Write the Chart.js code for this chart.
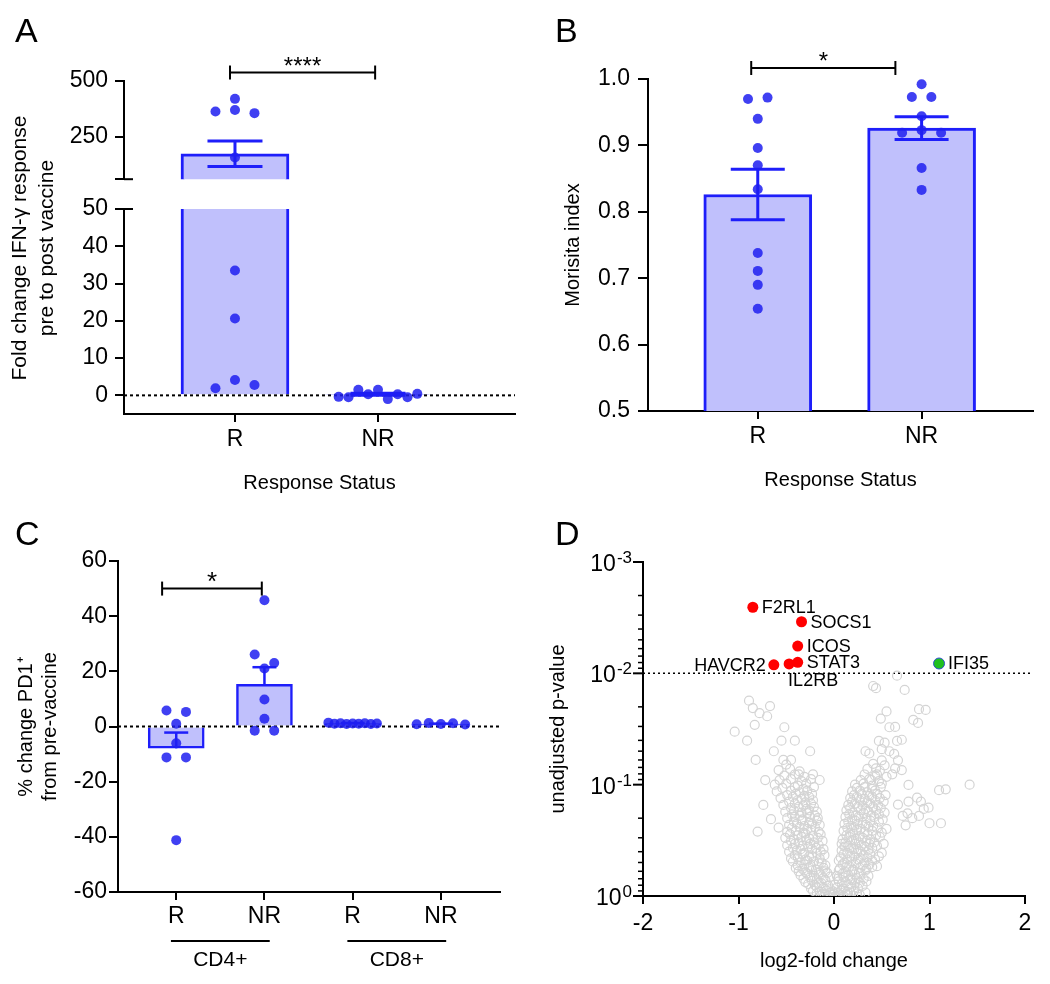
<!DOCTYPE html>
<html>
<head>
<meta charset="utf-8">
<title>Figure</title>
<script src="https://cdn.jsdelivr.net/npm/chart.js@4.4.1/dist/chart.umd.min.js"></script>
<style>
html, body { margin: 0; padding: 0; background: #fff; }
#fig { position: relative; width: 1050px; height: 984px; overflow: hidden; }
#fig canvas { position: absolute; }
</style>
</head>
<body>
<div id="fig">
	<canvas id="panel-a" width="530" height="500" style="left:0;top:0"></canvas>
	<canvas id="panel-a-top" width="530" height="200" style="left:0;top:0"></canvas>
	<canvas id="panel-b" width="520" height="500" style="left:530px;top:0"></canvas>
	<canvas id="panel-c" width="530" height="484" style="left:0;top:500px"></canvas>
	<canvas id="panel-d" width="520" height="484" style="left:530px;top:500px"></canvas>
</div>
<script>
( function () {
	'use strict';

	var FONT = '"Liberation Sans", Arial, Helvetica, sans-serif';
	var BLUE = 'rgb(30,30,250)';
	var FILL = 'rgb(192,192,252)';
	var DOT = 'rgba(30,30,240,0.85)';
	var GREY = 'rgb(212,212,212)';

	Chart.defaults.font.family = FONT;
	Chart.defaults.color = '#000';
	Chart.defaults.animation = false;
	Chart.defaults.events = [];
	Chart.defaults.plugins.legend.display = false;
	Chart.defaults.plugins.tooltip.enabled = false;

	// Panel A: fold change of the IFN-gamma response.
	var aCats = [ 'R', 'NR' ];
	var aMeans = [ 174, 0.3 ];
	var aSems = [ 57, 0.3 ];
	var aR = [ 420, 363, 370, 356, 157, 33.5, 20.6, 1.9, 4.1, 2.8 ];
	var aNR = [ -0.4, -0.5, 1.5, 0.3, 1.5, -1.0, 0.3, -0.5, 0.4 ];
	var aLowTicks = [ 0, 10, 20, 30, 40, 50 ];
	var aHighTicks = [ 60, 250, 500 ];

	// Panel B: Morisita index.
	var bCats = [ 'R', 'NR' ];
	var bMeans = [ 0.826, 0.926 ];
	var bSems = [ 0.038, 0.017 ];
	var bR = [ 0.970, 0.972, 0.940, 0.896, 0.870, 0.834, 0.738, 0.711, 0.690, 0.654 ];
	var bNR = [ 0.992, 0.973, 0.973, 0.944, 0.919, 0.923, 0.919, 0.866, 0.833 ];
	var bTicks = [ 0.5, 0.6, 0.7, 0.8, 0.9, 1.0 ];

	// Panel C: % change of PD1+ cells.
	var cCats = [ 'R', 'NR', 'R', 'NR' ];
	var cSubsets = [ 'CD4+', 'CD8+' ];
	var cMeans = [ -7.9, 15.3, 1.1, 0.9 ];
	var cSems = [ 5.7, 6.2, 0.15, 0.15 ];
	var cCd4R = [ 5.8, 5.3, 1.0, -6.1, -11.2, -11.2, -41.2 ];
	var cCd4NR = [ 45.8, 26.1, 23.0, 21.0, 9.8, 2.8, -1.5, -1.5 ];
	var cCd8R = [ 1.4, 1.0, 1.2, 0.9, 1.1, 1.0, 1.2, 0.9, 1.1 ];
	var cCd8NR = [ 0.8, 1.3, 0.9, 1.2, 0.7 ];
	var cTicks = [ -60, -40, -20, 0, 20, 40, 60 ];

	// Panel D: volcano plot.
	var dGenes = [ 'F2RL1', 'SOCS1', 'ICOS', 'STAT3', 'IL2RB', 'HAVCR2' ];
	var dGeneFC = [ -0.85, -0.34, -0.38, -0.38, -0.47, -0.63 ];
	var dGeneP = [ 0.00255, 0.00344, 0.00569, 0.00796, 0.00824, 0.00839 ];
	var dGreenGenes = [ 'IFI35' ];
	var dGreenFC = [ 1.10 ];
	var dGreenP = [ 0.00816 ];
	var dCutoff = 0.01;
	var dXTicks = [ -2, -1, 0, 1, 2 ];
	var dYTicks = [ 0.001, 0.01, 0.1, 1 ];
	var dYExp = [ '-3', '-2', '-1', '0' ];
	var dLabelSide = { F2RL1: 'right', SOCS1: 'right', ICOS: 'right', STAT3: 'right', IL2RB: 'below', HAVCR2: 'left', IFI35: 'right' };
	var dGrey = [
		[ -0.14, 0.99 ], [ -0.10, 0.97 ], [ -0.06, 1.0 ], [ -0.02, 0.98 ], [ 0.02, 0.99 ], [ 0.06, 0.965 ], [ 0.10, 1.0 ], [ 0.14, 0.98 ], [ 0.20, 0.99 ], [ 0.27, 0.975 ],
		[ -0.18, 0.94 ], [ -0.12, 0.96 ], [ -0.04, 0.93 ], [ 0.00, 0.955 ], [ 0.04, 0.94 ], [ 0.12, 0.96 ], [ 0.17, 0.935 ], [ 0.24, 0.95 ],
		[ -0.22, 0.90 ], [ -0.15, 0.92 ], [ -0.08, 0.89 ], [ -0.01, 0.91 ], [ 0.07, 0.895 ], [ 0.14, 0.92 ], [ 0.21, 0.90 ], [ 0.33, 0.93 ],
		[ -0.24, 0.86 ], [ -0.18, 0.83 ], [ -0.11, 0.85 ], [ -0.04, 0.87 ], [ 0.03, 0.84 ], [ 0.10, 0.86 ], [ 0.18, 0.83 ], [ 0.25, 0.85 ],
		[ -0.27, 0.78 ], [ -0.20, 0.80 ], [ -0.13, 0.77 ], [ -0.06, 0.81 ], [ 0.01, 0.79 ], [ 0.08, 0.78 ], [ 0.15, 0.80 ], [ 0.22, 0.77 ], [ 0.30, 0.81 ],
		[ -0.30, 0.75 ], [ -0.23, 0.73 ], [ -0.16, 0.76 ], [ -0.09, 0.72 ], [ 0.05, 0.74 ], [ 0.12, 0.75 ], [ 0.19, 0.72 ], [ 0.27, 0.76 ], [ 0.34, 0.74 ],
		[ -0.32, 0.70 ], [ -0.25, 0.68 ], [ -0.18, 0.71 ], [ -0.11, 0.69 ], [ -0.04, 0.67 ], [ 0.04, 0.70 ], [ 0.10, 0.68 ], [ 0.17, 0.71 ], [ 0.24, 0.69 ], [ 0.31, 0.70 ],
		[ -0.35, 0.65 ], [ -0.28, 0.63 ], [ -0.21, 0.66 ], [ -0.14, 0.64 ], [ -0.07, 0.62 ], [ 0.03, 0.66 ], [ 0.09, 0.63 ], [ 0.15, 0.65 ], [ 0.22, 0.64 ], [ 0.28, 0.62 ], [ 0.36, 0.66 ],
		[ -0.37, 0.60 ], [ -0.30, 0.61 ], [ -0.23, 0.59 ], [ -0.16, 0.62 ], [ -0.09, 0.60 ], [ 0.05, 0.59 ], [ 0.12, 0.61 ], [ 0.19, 0.60 ], [ 0.26, 0.62 ], [ 0.33, 0.59 ],
		[ -0.40, 0.56 ], [ -0.33, 0.57 ], [ -0.26, 0.55 ], [ -0.19, 0.58 ], [ -0.11, 0.56 ], [ 0.06, 0.57 ], [ 0.13, 0.55 ], [ 0.20, 0.58 ], [ 0.27, 0.56 ], [ 0.34, 0.57 ], [ 0.40, 0.55 ],
		[ -0.38, 0.53 ], [ -0.31, 0.52 ], [ -0.24, 0.54 ], [ -0.16, 0.51 ], [ -0.09, 0.53 ], [ 0.09, 0.52 ], [ 0.16, 0.54 ], [ 0.23, 0.51 ], [ 0.30, 0.53 ], [ 0.37, 0.52 ], [ 0.45, 0.54 ],
		[ -0.43, 0.49 ], [ -0.35, 0.50 ], [ -0.28, 0.48 ], [ -0.21, 0.49 ], [ -0.13, 0.50 ], [ 0.05, 0.48 ], [ 0.11, 0.50 ], [ 0.18, 0.49 ], [ 0.25, 0.47 ], [ 0.32, 0.50 ], [ 0.40, 0.48 ],
		[ -0.45, 0.46 ], [ -0.38, 0.45 ], [ -0.30, 0.47 ], [ -0.23, 0.44 ], [ -0.15, 0.46 ], [ 0.07, 0.45 ], [ 0.14, 0.47 ], [ 0.21, 0.44 ], [ 0.28, 0.46 ], [ 0.35, 0.45 ], [ 0.43, 0.47 ],
		[ -0.41, 0.43 ], [ -0.33, 0.42 ], [ -0.26, 0.44 ], [ -0.18, 0.41 ], [ -0.10, 0.43 ], [ 0.10, 0.42 ], [ 0.17, 0.44 ], [ 0.24, 0.41 ], [ 0.31, 0.43 ], [ 0.38, 0.42 ], [ 0.47, 0.44 ],
		[ -0.47, 0.40 ], [ -0.39, 0.39 ], [ -0.31, 0.41 ], [ -0.23, 0.38 ], [ -0.14, 0.40 ], [ 0.08, 0.39 ], [ 0.14, 0.41 ], [ 0.21, 0.38 ], [ 0.28, 0.40 ], [ 0.36, 0.39 ], [ 0.50, 0.41 ],
		[ -0.43, 0.37 ], [ -0.35, 0.38 ], [ -0.27, 0.36 ], [ -0.19, 0.37 ], [ -0.11, 0.38 ], [ 0.11, 0.36 ], [ 0.18, 0.37 ], [ 0.25, 0.38 ], [ 0.32, 0.36 ], [ 0.40, 0.37 ],
		[ -0.49, 0.35 ], [ -0.41, 0.34 ], [ -0.33, 0.355 ], [ -0.25, 0.34 ], [ -0.16, 0.35 ], [ 0.08, 0.34 ], [ 0.15, 0.355 ], [ 0.22, 0.34 ], [ 0.29, 0.35 ], [ 0.37, 0.34 ], [ 0.45, 0.355 ], [ 0.52, 0.34 ],
		[ -0.45, 0.32 ], [ -0.37, 0.33 ], [ -0.29, 0.315 ], [ -0.21, 0.33 ], [ -0.12, 0.32 ], [ 0.12, 0.33 ], [ 0.19, 0.315 ], [ 0.26, 0.33 ], [ 0.34, 0.32 ], [ 0.42, 0.33 ],
		[ -0.51, 0.30 ], [ -0.42, 0.31 ], [ -0.34, 0.295 ], [ -0.26, 0.305 ], [ -0.17, 0.30 ], [ 0.09, 0.31 ], [ 0.16, 0.295 ], [ 0.23, 0.305 ], [ 0.30, 0.30 ], [ 0.38, 0.31 ], [ 0.48, 0.295 ],
		[ -0.46, 0.28 ], [ -0.38, 0.285 ], [ -0.30, 0.275 ], [ -0.22, 0.29 ], [ -0.14, 0.28 ], [ 0.13, 0.285 ], [ 0.20, 0.275 ], [ 0.27, 0.29 ], [ 0.35, 0.28 ], [ 0.44, 0.285 ],
		[ -0.49, 0.265 ], [ -0.40, 0.26 ], [ -0.32, 0.27 ], [ -0.24, 0.255 ], [ -0.16, 0.265 ], [ 0.10, 0.26 ], [ 0.17, 0.27 ], [ 0.24, 0.255 ], [ 0.32, 0.265 ], [ 0.40, 0.26 ], [ 0.50, 0.27 ],
		[ -0.44, 0.245 ], [ -0.36, 0.24 ], [ -0.28, 0.25 ], [ -0.20, 0.24 ], [ 0.14, 0.245 ], [ 0.21, 0.24 ], [ 0.28, 0.25 ], [ 0.36, 0.24 ], [ 0.45, 0.245 ], [ 0.55, 0.25 ],
		[ -0.47, 0.23 ], [ -0.39, 0.225 ], [ -0.31, 0.235 ], [ -0.23, 0.225 ], [ -0.15, 0.23 ], [ 0.11, 0.225 ], [ 0.18, 0.235 ], [ 0.25, 0.225 ], [ 0.33, 0.23 ], [ 0.41, 0.235 ],
		[ -0.42, 0.215 ], [ -0.34, 0.21 ], [ -0.26, 0.22 ], [ -0.18, 0.21 ], [ 0.15, 0.215 ], [ 0.22, 0.21 ], [ 0.30, 0.22 ], [ 0.38, 0.21 ], [ 0.47, 0.215 ],
		[ -0.49, 0.20 ], [ -0.41, 0.195 ], [ -0.33, 0.205 ], [ -0.25, 0.195 ], [ -0.17, 0.20 ], [ 0.12, 0.195 ], [ 0.19, 0.205 ], [ 0.26, 0.195 ], [ 0.34, 0.20 ], [ 0.42, 0.195 ], [ 0.51, 0.205 ],
		[ -0.44, 0.185 ], [ -0.36, 0.19 ], [ -0.28, 0.18 ], [ -0.20, 0.19 ], [ 0.16, 0.185 ], [ 0.23, 0.19 ], [ 0.31, 0.18 ], [ 0.39, 0.19 ], [ 0.47, 0.185 ],
		[ -0.51, 0.175 ], [ -0.42, 0.17 ], [ -0.34, 0.178 ], [ -0.26, 0.17 ], [ -0.18, 0.175 ], [ 0.13, 0.17 ], [ 0.20, 0.178 ], [ 0.28, 0.17 ], [ 0.36, 0.175 ], [ 0.44, 0.17 ], [ 0.53, 0.178 ],
		[ -0.45, 0.162 ], [ -0.37, 0.158 ], [ -0.29, 0.165 ], [ -0.21, 0.158 ], [ 0.17, 0.162 ], [ 0.25, 0.158 ], [ 0.33, 0.165 ], [ 0.41, 0.158 ], [ 0.49, 0.162 ],
		[ -0.53, 0.152 ], [ -0.41, 0.148 ], [ -0.32, 0.154 ], [ -0.24, 0.148 ], [ 0.15, 0.152 ], [ 0.22, 0.148 ], [ 0.30, 0.154 ], [ 0.38, 0.148 ], [ 0.46, 0.152 ],
		[ -0.47, 0.142 ], [ -0.38, 0.138 ], [ -0.30, 0.144 ], [ -0.22, 0.138 ], [ 0.19, 0.142 ], [ 0.27, 0.138 ], [ 0.35, 0.144 ], [ 0.43, 0.138 ], [ 0.52, 0.142 ],
		[ -0.56, 0.132 ], [ -0.43, 0.129 ], [ -0.34, 0.134 ], [ -0.26, 0.129 ], [ 0.17, 0.132 ], [ 0.24, 0.129 ], [ 0.32, 0.134 ], [ 0.40, 0.129 ], [ 0.48, 0.132 ],
		[ -0.49, 0.124 ], [ -0.40, 0.121 ], [ -0.31, 0.126 ], [ -0.23, 0.121 ], [ 0.21, 0.124 ], [ 0.29, 0.121 ], [ 0.37, 0.126 ], [ 0.45, 0.121 ], [ 0.54, 0.124 ],
		[ -0.60, 0.115 ], [ -0.45, 0.113 ], [ -0.36, 0.117 ], [ -0.28, 0.113 ], [ 0.19, 0.115 ], [ 0.27, 0.113 ], [ 0.35, 0.117 ], [ 0.43, 0.113 ],
		[ -0.54, 0.107 ], [ -0.41, 0.105 ], [ -0.32, 0.109 ], [ -0.21, 0.105 ], [ 0.24, 0.107 ], [ 0.32, 0.105 ], [ 0.40, 0.109 ], [ 0.49, 0.105 ],
		[ -0.62, 0.100 ], [ -0.50, 0.098 ], [ -0.38, 0.102 ], [ -0.29, 0.098 ], [ 0.22, 0.100 ], [ 0.31, 0.098 ], [ 0.40, 0.102 ], [ 0.50, 0.098 ],
		[ -0.57, 0.091 ], [ -0.45, 0.089 ], [ -0.34, 0.093 ], [ -0.24, 0.089 ], [ 0.28, 0.091 ], [ 0.37, 0.089 ], [ 0.47, 0.093 ],
		[ -0.52, 0.083 ], [ -0.41, 0.081 ], [ -0.31, 0.085 ], [ 0.32, 0.081 ], [ 0.43, 0.083 ], [ 0.55, 0.085 ],
		[ -0.58, 0.074 ], [ -0.46, 0.072 ], [ -0.36, 0.076 ], [ 0.35, 0.072 ], [ 0.48, 0.075 ],
		[ -0.50, 0.066 ], [ 0.41, 0.065 ], [ 0.53, 0.067 ],
		[ -0.89, 0.0176 ], [ -0.85, 0.0205 ], [ -0.78, 0.0228 ], [ -0.67, 0.0197 ], [ -0.70, 0.0243 ], [ -0.83, 0.029 ], [ -0.52, 0.0305 ], [ -1.04, 0.0334 ],
		[ -0.91, 0.0403 ], [ -0.55, 0.0403 ], [ -0.41, 0.0403 ], [ -0.63, 0.0501 ], [ -0.25, 0.0501 ], [ -0.82, 0.060 ], [ -0.53, 0.060 ], [ -0.45, 0.060 ],
		[ -0.72, 0.091 ], [ -0.74, 0.152 ], [ -0.80, 0.264 ], [ -0.66, 0.204 ], [ -0.58, 0.243 ], [ -0.37, 0.0807 ], [ -0.22, 0.0807 ], [ -0.15, 0.0908 ],
		[ 0.66, 0.0105 ], [ 0.41, 0.0130 ], [ 0.44, 0.0136 ], [ 0.74, 0.0141 ], [ 0.89, 0.0210 ], [ 0.83, 0.0262 ], [ 0.49, 0.0255 ], [ 0.55, 0.0220 ],
		[ 0.58, 0.0305 ], [ 0.96, 0.0213 ], [ 0.88, 0.0279 ], [ 0.64, 0.0303 ], [ 0.47, 0.0405 ], [ 0.66, 0.0405 ], [ 0.53, 0.0420 ], [ 0.71, 0.0395 ],
		[ 0.33, 0.0501 ], [ 0.50, 0.0480 ], [ 0.58, 0.0501 ], [ 0.37, 0.0525 ], [ 0.63, 0.0530 ], [ 0.50, 0.0604 ], [ 0.67, 0.0604 ], [ 0.44, 0.0713 ],
		[ 0.64, 0.0713 ], [ 0.71, 0.0740 ], [ 0.45, 0.0807 ], [ 0.61, 0.0807 ], [ 0.39, 0.0908 ], [ 0.78, 0.1006 ], [ 1.17, 0.110 ], [ 1.42, 0.100 ],
		[ 1.10, 0.112 ], [ 0.87, 0.131 ], [ 0.91, 0.142 ], [ 0.78, 0.142 ], [ 0.99, 0.161 ], [ 0.72, 0.191 ], [ 0.77, 0.181 ], [ 0.89, 0.191 ],
		[ 0.82, 0.200 ], [ 0.75, 0.232 ], [ 1.00, 0.222 ], [ 1.12, 0.222 ], [ 0.67, 0.151 ], [ 0.94, 0.165 ]
	];

	function catAxis( cats, min, max, height, o ) {
		return {
			type: 'linear',
			display: ! o.hidden,
			min: min,
			max: max,
			offset: false,
			afterBuildTicks: function ( s ) {
				s.ticks = cats.map( function ( c, i ) { return { value: i }; } );
			},
			afterFit: function ( s ) { s.height = height; },
			ticks: {
				callback: function ( v ) { return cats[ v ]; },
				font: { size: 23 },
				padding: o.pad,
				maxRotation: 0,
				autoSkip: false
			},
			grid: { drawOnChartArea: false, offset: false, tickLength: 8, color: '#000', lineWidth: 2 },
			border: { color: '#000', width: 2 },
			title: o.title ? {
				display: true,
				text: o.title,
				font: { size: 20 },
				padding: { top: 0, bottom: o.titlePad }
			} : { display: false }
		};
	}

	function valAxis( min, max, ticks, width, o ) {
		return {
			type: 'linear',
			min: min,
			max: max,
			afterBuildTicks: function ( s ) {
				s.ticks = ticks.map( function ( v ) { return { value: v }; } );
			},
			afterFit: function ( s ) { s.width = width; },
			ticks: {
				callback: o.fmt || function ( v ) { return String( v ); },
				font: { size: 23 },
				padding: o.pad
			},
			grid: { drawOnChartArea: false, tickLength: o.tick, color: '#000', lineWidth: 2 },
			border: { color: '#000', width: 2 },
			title: o.title ? {
				display: true,
				text: o.title,
				font: { size: 20, lineHeight: 1.2 },
				padding: { top: o.titlePad, bottom: 0 }
			} : { display: false }
		};
	}

	// Spread the dots of each column sideways, row by row, as a dot plot does.
	function swarm( chart, groups, spread ) {
		var xs = chart.scales.x;
		var ys = chart.scales.y;
		var unit = xs.getPixelForValue( 1 ) - xs.getPixelForValue( 0 );
		var out = [];
		groups.forEach( function ( vals, g ) {
			var pts = vals.map( function ( v, i ) {
				return { v: v, i: i, py: ys.getPixelForValue( v ) };
			} );
			pts.sort( function ( a, b ) { return a.py - b.py; } );
			var rows = [];
			var row = null;
			pts.forEach( function ( p ) {
				if ( ! row || p.py - row[ 0 ].py > 10.5 ) {
					row = [];
					rows.push( row );
				}
				row.push( p );
			} );
			rows.forEach( function ( r ) {
				r.sort( function ( a, b ) { return a.i - b.i; } );
				var step = r.length > 1 ? Math.min( 19.5, spread * unit / ( r.length - 1 ) ) : 0;
				r.forEach( function ( p, k ) {
					out.push( { x: g + ( k - ( r.length - 1 ) / 2 ) * step / unit, y: p.v } );
				} );
			} );
		} );
		chart.data.datasets[ 1 ].data = out;
		chart.update( 'none' );
	}

	function line( ctx, x1, y1, x2, y2 ) {
		ctx.beginPath();
		ctx.moveTo( x1, y1 );
		ctx.lineTo( x2, y2 );
		ctx.stroke();
	}

	function deco( o ) {
		return {
			id: 'deco',
			afterDatasetDraw: function ( chart, args ) {
				if ( args.index !== 0 ) {
					return;
				}
				var ctx = chart.ctx;
				var a = chart.chartArea;
				var xs = chart.scales.x;
				var ys = chart.scales.y;
				ctx.save();
				ctx.beginPath();
				ctx.rect( a.left, a.top - 1, a.right - a.left, a.bottom - a.top + 2 );
				ctx.clip();
				if ( o.zeroLine ) {
					ctx.strokeStyle = '#000';
					ctx.lineWidth = 2;
					ctx.setLineDash( [ 3, 3 ] );
					line( ctx, a.left, ys.getPixelForValue( 0 ), a.right, ys.getPixelForValue( 0 ) );
					ctx.setLineDash( [] );
				}
				ctx.strokeStyle = BLUE;
				ctx.lineWidth = o.errWidth;
				o.means.forEach( function ( m, i ) {
					var cx = xs.getPixelForValue( i );
					var hi = ys.getPixelForValue( m + o.sems[ i ] );
					var lo = ys.getPixelForValue( o.errUp ? m : m - o.sems[ i ] );
					var h = o.cap / 2;
					line( ctx, cx, lo, cx, hi );
					line( ctx, cx - h, hi, cx + h, hi );
					if ( ! o.errUp ) {
						line( ctx, cx - h, lo, cx + h, lo );
					}
				} );
				ctx.restore();
			},
			afterDraw: function ( chart ) {
				var ctx = chart.ctx;
				var xs = chart.scales.x;
				var ys = chart.scales.y;
				ctx.save();
				ctx.fillStyle = '#000';
				ctx.strokeStyle = '#000';
				if ( o.letter ) {
					ctx.font = '34px ' + FONT;
					ctx.textAlign = 'left';
					ctx.textBaseline = 'alphabetic';
					ctx.fillText( o.letter[ 0 ], o.letter[ 1 ], o.letter[ 2 ] );
				}
				if ( o.bracket ) {
					var b = o.bracket;
					var x1 = xs.getPixelForValue( b.from );
					var x2 = xs.getPixelForValue( b.to );
					var yb = ys.getPixelForValue( b.at );
					ctx.lineWidth = 2;
					line( ctx, x1, yb, x2, yb );
					line( ctx, x1, yb - 7, x1, yb + 7 );
					line( ctx, x2, yb - 7, x2, yb + 7 );
					ctx.font = b.size + 'px ' + FONT;
					ctx.textAlign = 'center';
					ctx.textBaseline = 'alphabetic';
					ctx.fillText( b.text, ( x1 + x2 ) / 2, yb + 1 );
				}
				if ( o.extra ) {
					o.extra( chart, ctx );
				}
				ctx.restore();
			}
		};
	}

	function dotBar( id, o ) {
		var chart = new Chart( document.getElementById( id ), {
			type: 'bar',
			data: {
				datasets: [ {
					data: o.means.map( function ( m, i ) { return { x: i, y: m }; } ),
					backgroundColor: FILL,
					borderColor: BLUE,
					borderWidth: o.barBorder,
					barThickness: o.barWidth,
					order: 2
				}, {
					type: 'scatter',
					data: [],
					pointRadius: 5,
					pointBackgroundColor: DOT,
					pointBorderWidth: 0,
					order: 1
				} ]
			},
			options: {
				responsive: false,
				devicePixelRatio: 1,
				layout: { padding: o.padding },
				scales: { x: o.x, y: o.y }
			},
			plugins: [ deco( o ) ]
		} );
		swarm( chart, o.groups, 0.55 );
		return chart;
	}

	// Panel A, lower segment (0 to 50) with the category axis.
	dotBar( 'panel-a', {
		means: aMeans,
		sems: aSems,
		groups: [ aR, aNR ].map( function ( g ) {
			return g.filter( function ( v ) { return v <= aLowTicks[ aLowTicks.length - 1 ]; } );
		} ),
		barWidth: 108,
		barBorder: 3,
		errWidth: 3,
		cap: 55,
		zeroLine: true,
		letter: [ 'A', 15, 42 ],
		padding: { top: 209, right: 15, bottom: 0, left: 0 },
		x: catAxis( aCats, -0.776, 1.958, 86, { pad: 4, title: 'Response Status', titlePad: 5 } ),
		y: valAxis( -5, 50, aLowTicks, 124, { tick: 9, pad: 7 } ),
		extra: function ( chart, ctx ) {
			var a = chart.chartArea;
			ctx.lineWidth = 2;
			line( ctx, a.left, a.top, a.left + 9, a.top );
			// The axis title spans both segments, so it is drawn here.
			ctx.font = '21px ' + FONT;
			ctx.textAlign = 'center';
			ctx.textBaseline = 'middle';
			[ 'Fold change IFN-\u03b3 response', 'pre to post vaccine' ].forEach( function ( t, k ) {
				ctx.save();
				ctx.translate( 20 + k * 27, 248 );
				ctx.rotate( -Math.PI / 2 );
				ctx.fillText( t, 0, 0 );
				ctx.restore();
			} );
		}
	} );

	// Panel A, upper segment (60 to 500).
	dotBar( 'panel-a-top', {
		means: aMeans,
		sems: aSems,
		groups: [ aR, aNR ].map( function ( g ) {
			return g.filter( function ( v ) { return v >= aHighTicks[ 0 ]; } );
		} ),
		barWidth: 108,
		barBorder: 3,
		errWidth: 3,
		cap: 55,
		bracket: { from: -0.035, to: 0.98, at: 538, text: '****', size: 24 },
		padding: { top: 81, right: 15, bottom: 15, left: 0 },
		x: catAxis( aCats, -0.776, 1.958, 0, { hidden: true, pad: 4 } ),
		y: valAxis( aHighTicks[ 0 ], 500, aHighTicks, 124, {
			tick: 9,
			pad: 7,
			fmt: function ( v ) { return v === aHighTicks[ 0 ] ? '' : String( v ); }
		} ),
		extra: function ( chart, ctx ) {
			var a = chart.chartArea;
			ctx.lineWidth = 2;
			line( ctx, a.left, a.bottom, a.left + 9, a.bottom );
		}
	} );

	// Panel B.
	dotBar( 'panel-b', {
		means: bMeans,
		sems: bSems,
		groups: [ bR, bNR ],
		barWidth: 108,
		barBorder: 3,
		errWidth: 3,
		cap: 54,
		letter: [ 'B', 25, 42 ],
		bracket: { from: -0.04, to: 0.84, at: 1.0166, text: '*', size: 24 },
		padding: { top: 79, right: 17, bottom: 0, left: 0 },
		x: catAxis( bCats, -0.67, 1.68, 89, { pad: 4, title: 'Response Status', titlePad: 8 } ),
		y: valAxis( 0.5, 1.0, bTicks, 118, {
			tick: 10,
			pad: 8,
			title: 'Morisita index',
			titlePad: 31,
			fmt: function ( v ) { return v.toFixed( 1 ); }
		} )
	} );

	// Panel C.
	dotBar( 'panel-c', {
		means: cMeans,
		sems: cSems,
		groups: [ cCd4R, cCd4NR, cCd8R, cCd8NR ],
		barWidth: 56,
		barBorder: 2.5,
		errWidth: 2.5,
		cap: 24,
		errUp: true,
		zeroLine: true,
		letter: [ 'C', 15, 45 ],
		bracket: { from: -0.16, to: 0.97, at: 50, text: '*', size: 26 },
		padding: { top: 61, right: 30, bottom: 0, left: 0 },
		x: catAxis( cCats, -0.66, 3.67, 92, { pad: 3 } ),
		y: valAxis( -60, 60, cTicks, 118, {
			tick: 9,
			pad: 2,
			title: [ '% change PD1\u207a', 'from pre-vaccine' ],
			titlePad: 14
		} ),
		extra: function ( chart, ctx ) {
			var a = chart.chartArea;
			var xs = chart.scales.x;
			ctx.lineWidth = 2;
			ctx.font = '21px ' + FONT;
			ctx.textAlign = 'center';
			ctx.textBaseline = 'middle';
			cSubsets.forEach( function ( name, k ) {
				var x1 = xs.getPixelForValue( 2 * k - 0.06 );
				var x2 = xs.getPixelForValue( 2 * k + 1.06 );
				line( ctx, x1, a.bottom + 49, x2, a.bottom + 49 );
				ctx.fillText( name, ( x1 + x2 ) / 2, a.bottom + 68 );
			} );
		}
	} );

	// Panel D: volcano plot on a reversed log p-value axis.
	var volcanoDeco = {
		id: 'volcanoDeco',
		beforeDatasetsDraw: function ( chart ) {
			var ctx = chart.ctx;
			var a = chart.chartArea;
			var y = chart.scales.y.getPixelForValue( dCutoff );
			ctx.save();
			ctx.strokeStyle = '#000';
			ctx.lineWidth = 1.5;
			ctx.setLineDash( [ 2, 3 ] );
			line( ctx, a.left, y, a.right + 8, y );
			ctx.restore();
		},
		afterDraw: function ( chart ) {
			var ctx = chart.ctx;
			var a = chart.chartArea;
			var xs = chart.scales.x;
			var ys = chart.scales.y;
			var ax = a.left;
			ctx.save();
			ctx.fillStyle = '#000';
			ctx.strokeStyle = '#000';
			ctx.font = '34px ' + FONT;
			ctx.textAlign = 'left';
			ctx.textBaseline = 'alphabetic';
			ctx.fillText( 'D', 25, 45 );

			dYTicks.forEach( function ( v, i ) {
				var y = ys.getPixelForValue( v );
				ctx.lineWidth = 2;
				line( ctx, ax - 10, y, ax, y );
				if ( i < dYTicks.length - 1 ) {
					ctx.lineWidth = 1.5;
					for ( var k = 2; k <= 9; k++ ) {
						var ym = ys.getPixelForValue( v * k );
						line( ctx, ax - 5, ym, ax, ym );
					}
				}
				ctx.textAlign = 'right';
				ctx.font = '17px ' + FONT;
				var sw = ctx.measureText( dYExp[ i ] ).width;
				ctx.fillText( dYExp[ i ], ax - 11, y + 1 );
				ctx.font = '23px ' + FONT;
				ctx.fillText( '10', ax - 12 - sw, y + 9 );
			} );

			ctx.font = '18px ' + FONT;
			ctx.textBaseline = 'middle';
			function label( name, fc, p ) {
				var px = xs.getPixelForValue( fc );
				var py = ys.getPixelForValue( p );
				var side = dLabelSide[ name ];
				if ( side === 'left' ) {
					ctx.textAlign = 'right';
					ctx.fillText( name, px - 8, py + 1 );
				} else if ( side === 'below' ) {
					ctx.textAlign = 'left';
					ctx.fillText( name, px - 1, py + 17 );
				} else {
					ctx.textAlign = 'left';
					ctx.fillText( name, px + 9, py + 1 );
				}
			}
			dGenes.forEach( function ( g, i ) { label( g, dGeneFC[ i ], dGeneP[ i ] ); } );
			dGreenGenes.forEach( function ( g, i ) { label( g, dGreenFC[ i ], dGreenP[ i ] ); } );
			ctx.restore();
		}
	};

	new Chart( document.getElementById( 'panel-d' ), {
		type: 'scatter',
		data: {
			datasets: [ {
				data: dGrey.map( function ( d ) { return { x: d[ 0 ], y: d[ 1 ] }; } ),
				pointRadius: 4.5,
				pointBorderWidth: 1.2,
				pointBorderColor: GREY,
				pointBackgroundColor: 'rgba(0,0,0,0)',
				order: 3
			}, {
				data: dGenes.map( function ( g, i ) { return { x: dGeneFC[ i ], y: dGeneP[ i ] }; } ),
				pointRadius: 5.5,
				pointBorderWidth: 0,
				pointBackgroundColor: '#ff0000',
				order: 2
			}, {
				data: dGreenGenes.map( function ( g, i ) { return { x: dGreenFC[ i ], y: dGreenP[ i ] }; } ),
				pointRadius: 5.5,
				pointBorderWidth: 1,
				pointBorderColor: '#3050d0',
				pointBackgroundColor: '#1fc01f',
				order: 1
			} ]
		},
		options: {
			responsive: false,
			devicePixelRatio: 1,
			layout: { padding: { top: 62, right: 25, bottom: 0, left: 0 } },
			scales: {
				x: {
					type: 'linear',
					min: -2,
					max: 2,
					afterBuildTicks: function ( s ) {
						s.ticks = dXTicks.map( function ( v ) { return { value: v }; } );
					},
					afterFit: function ( s ) { s.height = 88; },
					ticks: { font: { size: 23 }, padding: 6, callback: function ( v ) { return String( v ); } },
					grid: { drawOnChartArea: false, tickLength: 8, color: '#000', lineWidth: 2 },
					border: { color: '#000', width: 2 },
					title: { display: true, text: 'log2-fold change', font: { size: 20 }, padding: { top: 0, bottom: 11 } }
				},
				y: {
					type: 'logarithmic',
					min: dYTicks[ 0 ],
					max: dYTicks[ dYTicks.length - 1 ],
					reverse: true,
					afterFit: function ( s ) { s.width = 113; },
					ticks: { display: false },
					grid: { display: false },
					border: { display: true, color: '#000', width: 2 },
					title: { display: true, text: 'unadjusted p-value', font: { size: 20 }, padding: { top: 16, bottom: 0 } }
				}
			}
		},
		plugins: [ volcanoDeco ]
	} );
} )();
</script>
</body>
</html>
